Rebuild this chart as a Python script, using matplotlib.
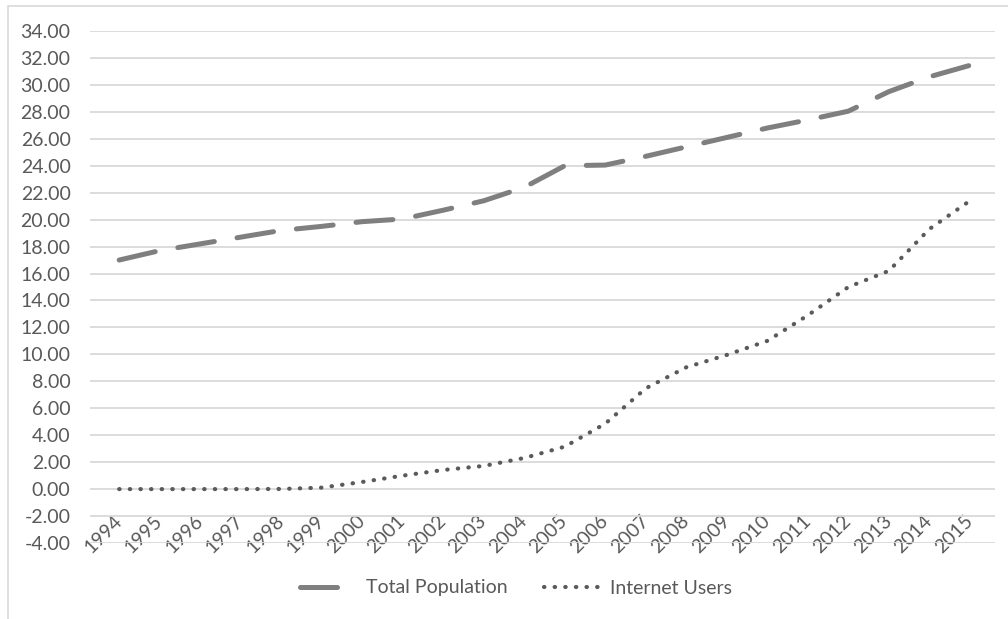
import matplotlib.pyplot as plt
from matplotlib.patches import Rectangle

plt.rcParams["font.family"] = ["Lato", "DejaVu Sans"]
plt.rcParams["axes.unicode_minus"] = False

years = [str(y) for y in range(1994, 2016)]
total_population = [17.0, 17.7, 18.2, 18.7, 19.2, 19.5, 19.85, 20.05, 20.7, 21.4,
                    22.4, 24.0, 24.05, 24.7, 25.4, 26.1, 26.8, 27.4, 28.05, 29.5,
                    30.6, 31.45]
internet_users = [0.0, 0.0, 0.0, 0.0, 0.01, 0.11, 0.53, 1.0, 1.42, 1.72,
                  2.31, 3.15, 4.86, 7.48, 9.04, 9.96, 11.0, 12.9, 15.0, 16.2,
                  19.3, 21.4]
y_ticks = list(range(-4, 35, 2))

text_color = "#595959"
grid_color = "#d9d9d9"

fig = plt.figure(figsize=(10.08, 6.19), dpi=100)
ax = fig.add_axes([90 / 1008, 1 - 543 / 619, 905 / 1008, 512 / 619])

# chart border
fig.patches.append(Rectangle((7.5 / 1008, -0.1), 1.2, 1 - 6.5 / 619 + 0.1,
                             transform=fig.transFigure, fill=False,
                             edgecolor=grid_color, linewidth=1.2))

x = list(range(len(years)))
ax.plot(x, total_population, color="#7f7f7f", linewidth=3.6,
        linestyle=(0, (7.4, 4.6)), dash_capstyle="round",
        solid_capstyle="round", label="Total Population")
ax.plot(x, internet_users, color="#5a5a5a", linewidth=3.0,
        linestyle=(0, (0.1, 2.45)), dash_capstyle="round",
        label="Internet Users")

ax.set_xlim(-0.72, len(years) - 1 + 0.62)
ax.set_ylim(-4, 34)
ax.set_yticks(y_ticks)
ax.set_yticklabels([f"{v:.2f}" for v in y_ticks])
ax.yaxis.grid(True, color=grid_color, linewidth=1.3)
ax.set_axisbelow(True)

ax.set_xticks(x)
ax.set_xticklabels(years)
for s in ax.spines.values():
    s.set_visible(False)
ax.spines["bottom"].set_position(("data", 0))
ax.tick_params(axis="both", length=0, colors=text_color, labelsize=14)
ax.tick_params(axis="y", pad=14)
ax.tick_params(axis="x", pad=21)
plt.setp(ax.get_xticklabels(), rotation=45, ha="right", va="center",
         rotation_mode="anchor")

fig.legend(loc="center", bbox_to_anchor=(0.512, 1 - 588 / 619), ncol=2,
           frameon=False, fontsize=14, labelcolor=text_color,
           handlelength=3.1, handletextpad=0.3, columnspacing=1.9)

plt.savefig("out.png", dpi=100)
